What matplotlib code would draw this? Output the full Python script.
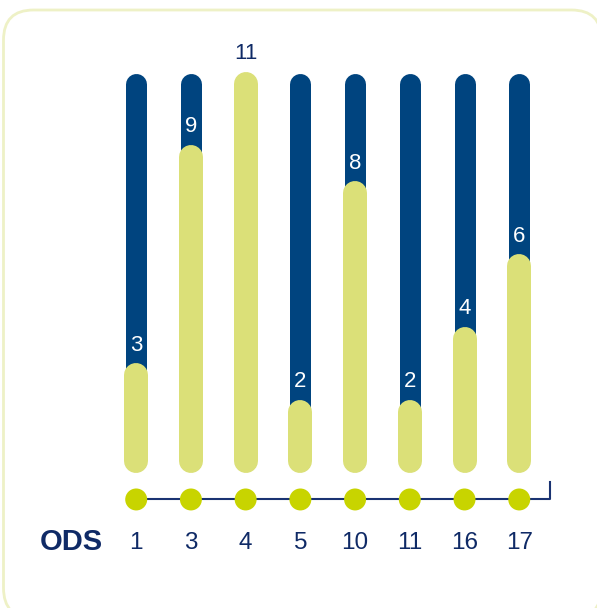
import matplotlib.pyplot as plt
from matplotlib.patches import FancyBboxPatch

# data
ods = ["1", "3", "4", "5", "10", "11", "16", "17"]
values = [3, 9, 11, 2, 8, 2, 4, 6]
total = 11

blue = "#00447f"
yellow = "#dbe078"
dot_col = "#c8d400"
navy = "#0f2a66"
border = "#eef1c6"

fig = plt.figure(figsize=(5.97, 6.08), dpi=100)
ax = fig.add_axes([0, 0, 1, 1])
ax.set_xlim(-2.489, 8.421)
ax.set_ylim(-3.70, 12.96)
ax.axis("off")

# rounded frame (runs off the right and bottom edges like the original)
# filled white so agg doesn't clip/distort the curved path at the canvas edge
frame = FancyBboxPatch((0.035, -0.10), 5.98, 6.08, boxstyle="round,pad=0,rounding_size=0.3",
                       transform=fig.dpi_scale_trans, facecolor="white", edgecolor=border,
                       linewidth=2, zorder=-1)
fig.patches.append(frame)

px = 36.5  # pixels per unit on y
x = list(range(len(ods)))

for i, v in zip(x, values):
    # background bar (full scale)
    ax.plot([i, i], [11.5 / px, total - 12 / px], color=blue, lw=21 * 0.72,
            solid_capstyle="round", zorder=2)
    # value bar
    ax.plot([i, i], [12 / px, v - 12 / px], color=yellow, lw=24 * 0.72,
            solid_capstyle="round", zorder=3)
    col = navy if v == total else "white"
    ax.text(i, v + 18 / px, str(v), ha="center", va="center", color=col,
            fontsize=16, family="Liberation Sans", zorder=4)

# baseline with dots and little hook at the end
ax.plot([x[0], 7.56, 7.56], [-0.726, -0.726, -0.25], color="#1a3372", lw=1.5,
        solid_joinstyle="round", zorder=1)
ax.scatter(x, [-0.726] * len(x), s=250, color=dot_col, edgecolor="none", zorder=2)

for i, lab in zip(x, ods):
    ax.text(i, -1.93, lab, ha="center", va="center", color=navy, fontsize=17.5,
            family="Liberation Sans")
ax.text(-0.607, -1.90, "ODS", ha="right", va="center", color=navy, fontsize=21,
        fontweight="bold", family="Liberation Sans")

fig.savefig("out.png", dpi=100)
